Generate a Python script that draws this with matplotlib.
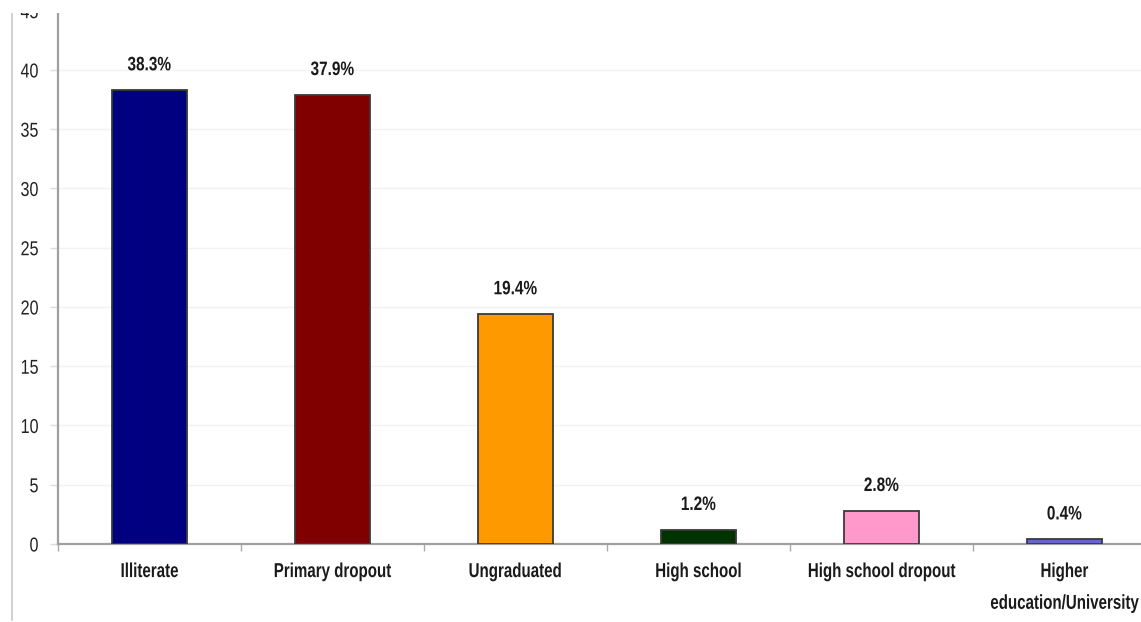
import matplotlib
matplotlib.use("Agg")
import matplotlib.pyplot as plt
from matplotlib.lines import Line2D
from matplotlib.patches import Rectangle
from matplotlib.patheffects import AbstractPathEffect
from matplotlib.transforms import Affine2D

categories = ["Illiterate", "Primary dropout", "Ungraduated", "High school",
              "High school dropout", "Higher\neducation/University"]
values = [38.3, 37.9, 19.4, 1.2, 2.8, 0.4]
labels = ["38.3%", "37.9%", "19.4%", "1.2%", "2.8%", "0.4%"]
colors = ["#000080", "#800000", "#FF9900", "#003300", "#FF99CC", "#6666CC"]
yticks = [0, 5, 10, 15, 20, 25, 30, 35, 40, 45]

plt.rcParams["font.family"] = ["Liberation Sans", "DejaVu Sans"]


class Narrow(AbstractPathEffect):
    """Draw text horizontally condensed (like a narrow font)."""

    def __init__(self, sx=0.78, anchor="center"):
        super().__init__()
        self.sx = sx
        self.anchor = anchor

    def draw_path(self, renderer, gc, tpath, affine, rgbFace=None):
        v = tpath.vertices
        if len(v):
            if self.anchor == "right":
                cx = v[:, 0].max()
            else:
                cx = (v[:, 0].min() + v[:, 0].max()) / 2
        else:
            cx = 0
        a = Affine2D().translate(-cx, 0).scale(self.sx, 1).translate(cx, 0) + affine
        renderer.draw_path(gc, tpath, a, rgbFace)


W, H = 1141, 622
fig = plt.figure(figsize=(W / 100, H / 100), dpi=100)
left = 58 / W
right = 1156 / W
bottom = (H - 544) / H
top = 1 - 10.7 / H
ax = fig.add_axes([left, bottom, right - left, top - bottom])

x = list(range(len(categories)))
ax.bar(x, values, width=0.41, color=colors, edgecolor="#3a3a3a", linewidth=1.3, zorder=3)
for xi, v, lab in zip(x, values, labels):
    ax.annotate(lab, (xi, v), xytext=(0, 17.5), textcoords="offset points",
                ha="center", va="center", fontsize=14, fontweight="bold", color="#1a1a1a",
                path_effects=[Narrow(0.79)])

ax.set_xlim(-0.5, 5.5)
ax.set_ylim(0, 45)
ax.set_yticks(yticks)
ax.set_yticklabels([str(t) for t in yticks])
ax.set_xticks(x)
ax.set_xticklabels(categories, fontsize=14.5, fontweight="bold", color="#1a1a1a",
                   linespacing=1.85)
ax.set_xticks([i + 0.5 for i in range(-1, 6)], minor=True)
ax.tick_params(axis="x", which="major", length=0, pad=13)
ax.tick_params(axis="x", which="minor", length=5, color="#aaaaaa", width=1)
ax.tick_params(axis="y", length=6, color="#dddddd", width=1, labelsize=14.5,
               labelcolor="#222222", pad=8)
for yt in yticks[1:]:
    ax.axhline(yt, color="#f2f2f2", linewidth=1, zorder=0)
for s in ["top", "right"]:
    ax.spines[s].set_visible(False)
for s in ["left", "bottom"]:
    ax.spines[s].set_color("#a0a0a0")
    ax.spines[s].set_linewidth(1.6)

for t in ax.get_xticklabels():
    t.set_path_effects([Narrow(0.75)])
for t in ax.get_yticklabels():
    t.set_path_effects([Narrow(0.8, anchor="right")])

# cropped top edge of the original image
fig.add_artist(Rectangle((0, 1 - 12.5 / H), 1, 12.5 / H, transform=fig.transFigure,
                         facecolor="white", edgecolor="none", zorder=10))
fig.add_artist(Line2D([12 / W, 12 / W], [1 - 14 / H, 1 - 620 / H],
                      transform=fig.transFigure, color="#c8c8c8", linewidth=1.2, zorder=11))

fig.savefig("out.png", dpi=100)
